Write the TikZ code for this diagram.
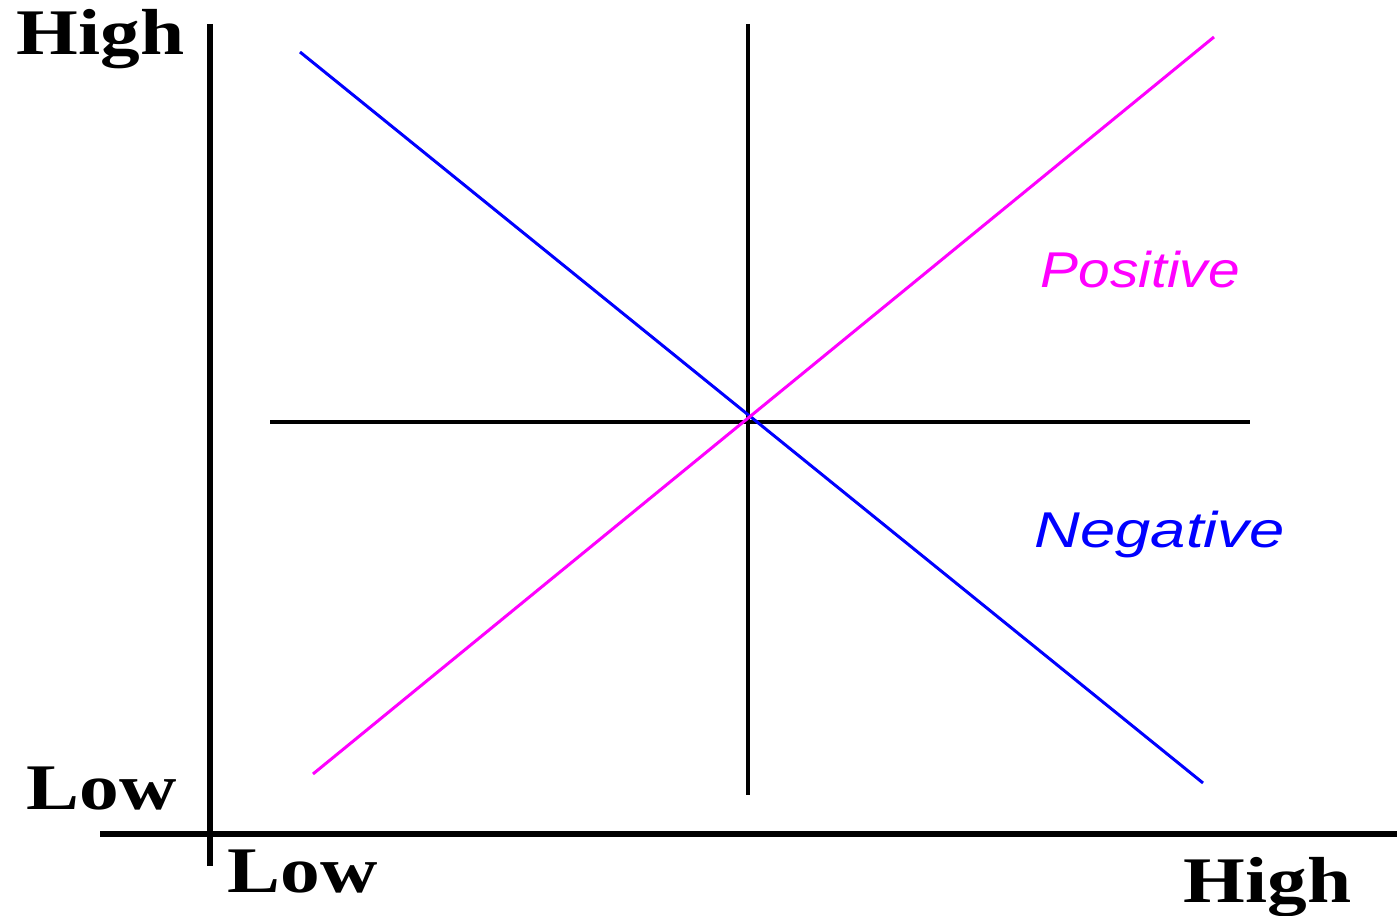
\documentclass[tikz,border=0pt]{standalone}
\usepackage{fontspec}
\newfontfamily\axisfont[FakeStretch=1.22]{Liberation Serif}
\newfontfamily\signfont[FakeStretch=1.13]{Liberation Sans}
\newfontfamily\widesignfont[FakeStretch=1.26]{Liberation Sans}
\definecolor{posmagenta}{RGB}{255,0,255}
\definecolor{negblue}{RGB}{0,0,255}
\begin{document}
\begin{tikzpicture}[
    x=0.01cm, y=-0.01cm,
    axis/.style={line width=1.45pt},
    guide/.style={line width=1.4pt},
    trend/.style={line width=0.85pt},
    level/.style={inner sep=0pt, anchor=base west, font=\axisfont\bfseries\fontsize{18.5}{20}\selectfont},
    sign/.style={inner sep=0pt, anchor=base west, font=\signfont\itshape\fontsize{14.3}{16}\selectfont}
]
\useasboundingbox (0,0) rectangle (1399,916);

% Axes
\coordinate (ytop) at (210,24);
\coordinate (ybot) at (210,866);
\coordinate (xleft) at (100,834);
\coordinate (xright) at (1397,834);
\draw[axis] (ytop) -- (ybot);
\draw[axis] (xleft) -- (xright);

% Quadrant lines
\coordinate (vtop) at (748,24);
\coordinate (vbot) at (748,795);
\coordinate (hleft) at (270,422);
\coordinate (hright) at (1250,422);
\draw[guide] (vtop) -- (vbot);
\draw[guide] (hleft) -- (hright);

% Trend lines
\coordinate (negstart) at (300,52);
\coordinate (negend) at (1203,783);
\coordinate (posstart) at (313,774);
\coordinate (posend) at (1214,37);
\draw[trend, negblue] (negstart) -- (negend);
\draw[trend, posmagenta] (posstart) -- (posend);

% Axis labels
\node[level] (yhigh) at (16,55) {High};
\node[level] (ylow) at (26,810) {Low};
\node[level] (xlow) at (227,893) {Low};
\node[level] (xhigh) at (1183,903) {High};

% Trend labels
\node[sign, posmagenta] (positive) at (1040,288) {Positive};
\node[sign, negblue, font=\widesignfont\itshape\fontsize{14.3}{16}\selectfont] (negative) at (1034,548) {Negative};

\end{tikzpicture}
\end{document}
